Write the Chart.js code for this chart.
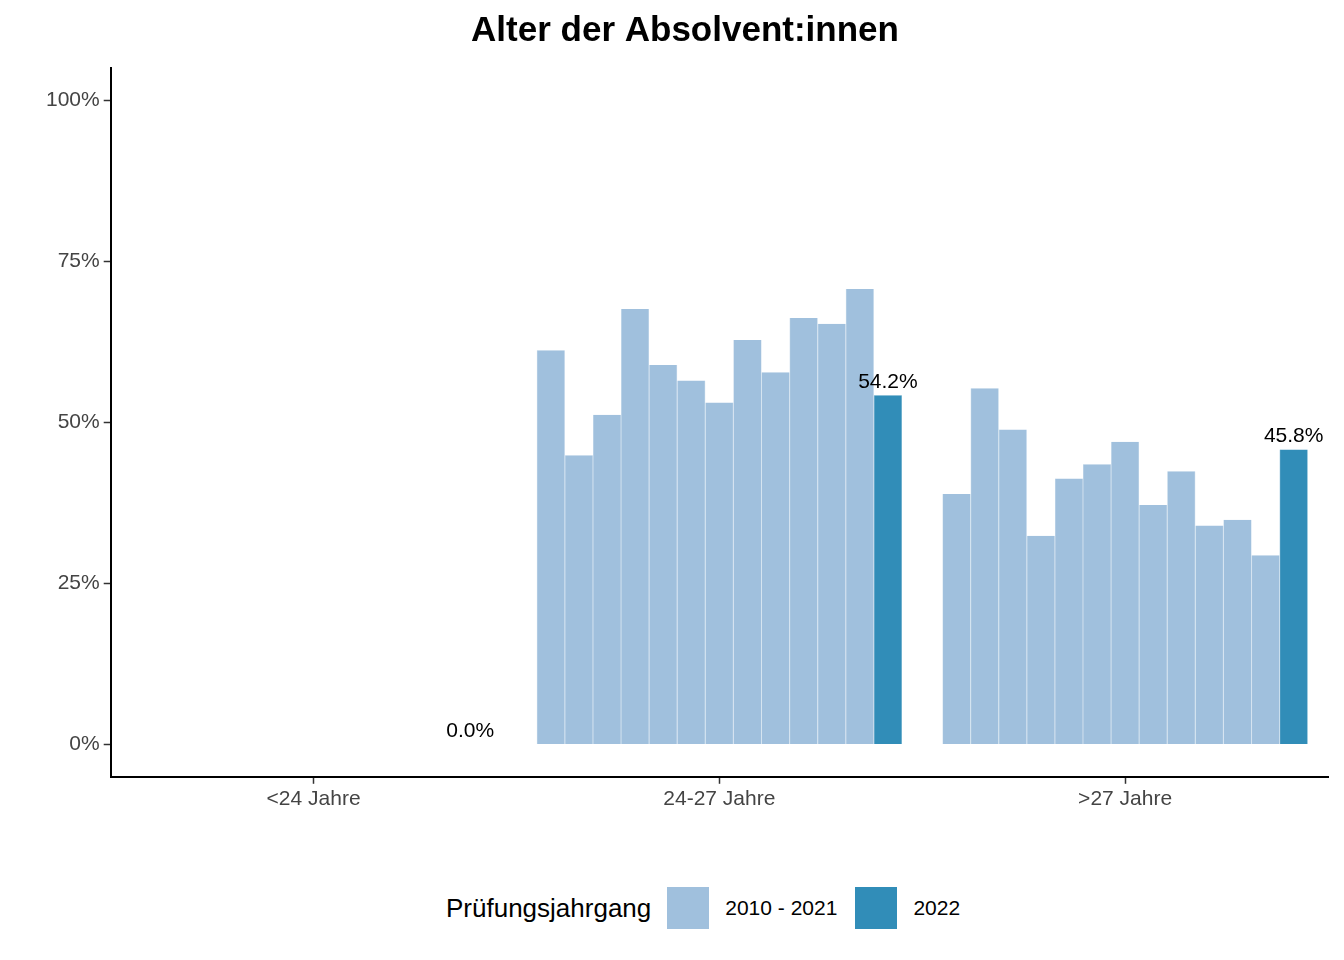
<!DOCTYPE html>
<html>
<head>
<meta charset="utf-8">
<script src="https://cdn.jsdelivr.net/npm/chart.js@4"></script>
<style>
  body { margin: 0; background: #fff; font-family: "Liberation Sans", Arial, sans-serif; }
  #wrap { position: relative; width: 1344px; height: 960px; }
  #legend { position: absolute; top: 887px; left: 446px; display: flex; align-items: center; font-size: 26px; color: #000; }
  .sw { width: 42px; height: 42px; display: inline-block; margin: 0 16px 0 16px; }
  .lab { font-size: 21px; }
</style>
</head>
<body>
<div id="wrap">
  <canvas id="myChart" width="1344" height="815"></canvas>
  <div id="legend">
    <span>Prüfungsjahrgang</span>
    <span class="sw" style="background:#a0c0dd;margin-left:16px"></span><span class="lab">2010 - 2021</span>
    <span class="sw" style="background:#318db8;margin-left:18px"></span><span class="lab">2022</span>
  </div>
</div>
<script>
const categories = ['<24 Jahre', '24-27 Jahre', '>27 Jahre'];
const years = ['2010', '2011', '2012', '2013', '2014', '2015', '2016', '2017', '2018', '2019', '2020', '2021', '2022'];
// share per year, one array per age group
const under24 = [0, 0, 0, 0, 0, 0, 0, 0, 0, 0, 0, 0, 0];
const age24to27 = [61.2, 44.9, 51.2, 67.6, 58.9, 56.5, 53.1, 62.8, 57.8, 66.2, 65.3, 70.7, 54.2];
const over27 = [38.9, 55.3, 48.9, 32.4, 41.3, 43.5, 47.0, 37.2, 42.4, 34.0, 34.9, 29.4, 45.8];
const yTicks = [0, 25, 50, 75, 100];

const datasets = years.map((y, i) => {
  const col = i === years.length - 1 ? '#318db8' : '#a0c0dd';
  return {
    label: y,
    data: [under24[i], age24to27[i], over27[i]],
    backgroundColor: col,
    borderColor: col,
    borderWidth: { left: 0.5, right: 0.5, top: 0, bottom: 0 },
    barPercentage: 1.0,
    categoryPercentage: 0.9
  };
});

// value labels over the 2022 bars
const barLabels = {
  id: 'barLabels',
  afterDatasetsDraw(chart) {
    const ctx = chart.ctx;
    const last = chart.data.datasets.length - 1;
    const meta = chart.getDatasetMeta(last);
    ctx.save();
    ctx.font = '21px "Liberation Sans", Arial, sans-serif';
    ctx.fillStyle = '#000';
    ctx.textAlign = 'center';
    ctx.textBaseline = 'bottom';
    meta.data.forEach((bar, i) => {
      const v = chart.data.datasets[last].data[i];
      const x = v === 0 ? bar.x - 12 : bar.x;
      ctx.fillText(v.toFixed(1) + '%', x, bar.y - 3);
    });
    ctx.restore();
  }
};

const ctx = document.getElementById('myChart').getContext('2d');
new Chart(ctx, {
  type: 'bar',
  data: { labels: categories, datasets: datasets },
  plugins: [barLabels],
  options: {
    responsive: false,
    animation: false,
    layout: { padding: { left: 42, right: 16, top: 0, bottom: 0 } },
    plugins: {
      legend: { display: false },
      tooltip: { enabled: false },
      title: {
        display: true,
        text: 'Alter der Absolvent:innen',
        color: '#000',
        font: { size: 35, weight: 'bold', family: '"Liberation Sans", Arial, sans-serif' },
        padding: { top: 10, bottom: 16 }
      }
    },
    scales: {
      x: {
        offset: true,
        grid: { display: true, drawOnChartArea: false, offset: false, tickLength: 7, color: '#333', tickWidth: 1.5 },
        border: { display: true, color: '#000', width: 2 },
        ticks: { color: '#444', font: { size: 21 }, padding: 3 }
      },
      y: {
        min: -5,
        max: 105,
        afterBuildTicks: (axis) => { axis.ticks = yTicks.map(v => ({ value: v })); },
        grid: { display: true, drawOnChartArea: false, tickLength: 7, color: '#333', tickWidth: 1.5 },
        border: { display: true, color: '#000', width: 2 },
        ticks: { color: '#444', font: { size: 21 }, padding: 4, callback: v => v + '%' }
      }
    }
  }
});
</script>
</body>
</html>
